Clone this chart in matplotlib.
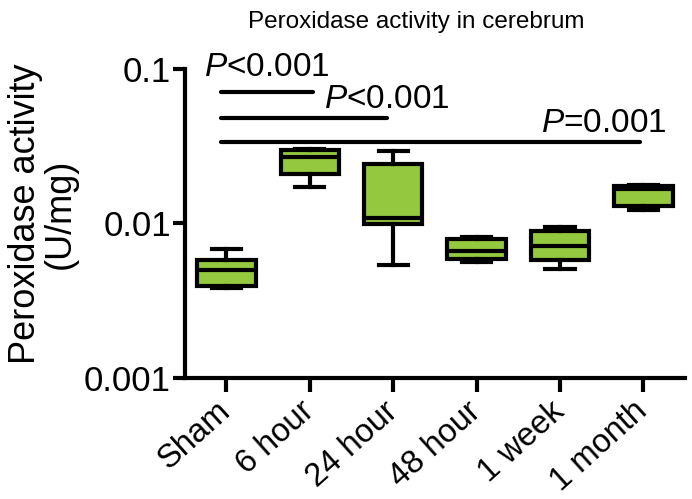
import matplotlib
matplotlib.use('Agg')
import matplotlib.pyplot as plt
import numpy as np

plt.rcParams['font.family'] = ['Liberation Sans', 'DejaVu Sans']
plt.rcParams['mathtext.fontset'] = 'custom'
plt.rcParams['mathtext.rm'] = 'Liberation Sans'
plt.rcParams['mathtext.it'] = 'Liberation Sans:italic'

grupos = ['Sham', '6 hour', '24 hour', '48 hour', '1 week', '1 month']
# valores (U/mg)
minimos = [0.0038, 0.0173, 0.0054, 0.00566, 0.0051, 0.0122]
q1 = [0.00394, 0.0209, 0.0099, 0.0059, 0.0058, 0.0130]
medianas = [0.0050, 0.0271, 0.0108, 0.0066, 0.00718, 0.0166]
q3 = [0.0058, 0.0299, 0.0242, 0.00791, 0.00894, 0.0175]
maximos = [0.00684, 0.0302, 0.0296, 0.00813, 0.0095, 0.0177]

# comparaciones contra Sham
comp_fin = [1, 2, 5]
comp_y = [0.0713, 0.0484, 0.0335]
comp_p = ['<0.001', '<0.001', '=0.001']

verde = '#93C83F'

fig = plt.figure(figsize=(6.92, 4.99), dpi=100)
ax = fig.add_axes([0.267, 0.2425, 0.723, 0.6195])

stats = []
for i in range(len(grupos)):
    stats.append({'whislo': minimos[i], 'q1': q1[i], 'med': medianas[i],
                  'q3': q3[i], 'whishi': maximos[i], 'label': grupos[i]})

ax.bxp(stats, positions=range(len(grupos)), widths=0.7, patch_artist=True,
       showfliers=False,
       boxprops=dict(facecolor=verde, edgecolor='black', linewidth=3),
       medianprops=dict(color='black', linewidth=3),
       whiskerprops=dict(color='black', linewidth=3),
       capprops=dict(color='black', linewidth=3),
       capwidths=0.35)

ax.set_yscale('log')
ax.set_ylim(0.001, 0.1)
ax.set_xlim(-0.5, 5.5)
ax.set_yticks([0.001, 0.01, 0.1])
ax.set_yticklabels(['0.001', '0.01', '0.1'])
ax.yaxis.set_minor_locator(matplotlib.ticker.NullLocator())
ax.set_xticks(range(len(grupos)))
ax.set_xticklabels(grupos, rotation=42, ha='right', va='center',
                   rotation_mode='anchor')

for s in ['top', 'right']:
    ax.spines[s].set_visible(False)
for s in ['left', 'bottom']:
    ax.spines[s].set_linewidth(3)
ax.tick_params(axis='both', width=3, length=9, labelsize=25, pad=1)
ax.tick_params(axis='x', length=10, pad=11, labelsize=23.5)

ax.set_ylabel('Peroxidase activity\n(U/mg)', fontsize=26, linespacing=1.0)
ax.yaxis.set_label_coords(-0.214, 0.53)
fig.text(0.601, 0.944, 'Peroxidase activity in cerebrum', fontsize=17.5,
         ha='center', va='baseline')

# lineas de significancia
fin_x = [1.04, 1.92, 4.96]
texto_x = [-0.264, 1.175, 5.28]
texto_y = [0.090, 0.0559, 0.0391]
texto_ha = ['left', 'left', 'right']
for i in range(len(comp_fin)):
    ax.plot([-0.07, fin_x[i]], [comp_y[i], comp_y[i]], color='black', linewidth=3,
            solid_capstyle='round', clip_on=False)
    ax.text(texto_x[i], texto_y[i], '$\\it{P}$' + comp_p[i], fontsize=24,
            ha=texto_ha[i], va='baseline', clip_on=False)

fig.savefig('out.png', dpi=100)
